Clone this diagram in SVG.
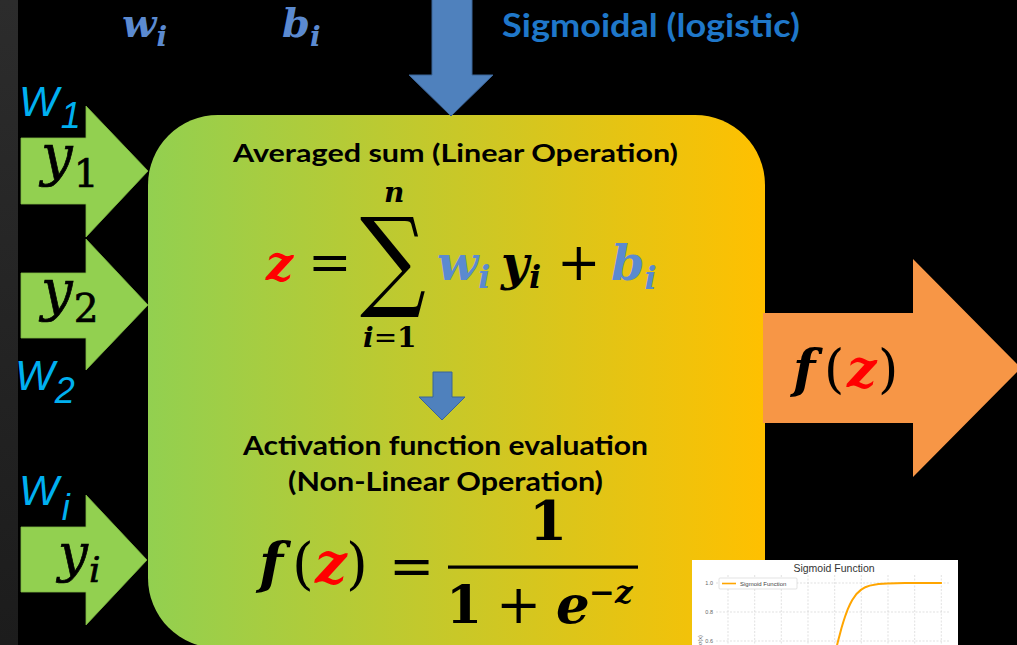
<svg xmlns="http://www.w3.org/2000/svg" width="1017" height="645" viewBox="0 0 1017 645">
<defs>
<linearGradient id="boxGrad" x1="148" y1="0" x2="765" y2="0" gradientUnits="userSpaceOnUse">
<stop offset="0" stop-color="#92d050"/>
<stop offset="1" stop-color="#ffc000"/>
</linearGradient>
<linearGradient id="stripGrad" x1="0" y1="0" x2="0" y2="1">
<stop offset="0" stop-color="#2c2c2c"/>
<stop offset="1" stop-color="#1c1c1c"/>
</linearGradient>
<style>
.sans{font-family:Lato,"Open Sans","Liberation Sans",sans-serif;font-weight:700}
.math{font-family:"DejaVu Serif","Liberation Serif",serif}
.bi{font-weight:700;font-style:italic}
.it{font-style:italic}
.blue{fill:#5b8ad0}
.red{fill:#ff0000}
.wlab{font-family:"Liberation Sans",Arial,sans-serif;font-style:italic;fill:#00b0f0}
.ylab{fill:#000;stroke:#000;stroke-width:0.7}
.green{fill:#92d050;stroke:#7fb843;stroke-width:0.8}
.bluearrow{fill:#4f81bd;stroke:#3b6497;stroke-width:1}
.grid{stroke:#cfcfcf;stroke-width:0.6;stroke-dasharray:2 1.5}
.tick{font-family:"Liberation Sans",Arial,sans-serif;font-size:5.5px;fill:#666}
</style>
</defs>
<rect width="1017" height="645" fill="#000"/>
<rect x="0" y="0" width="18" height="645" fill="url(#stripGrad)"/>

<g id="neuron">
<rect x="148" y="115" width="617" height="533" rx="70" ry="70" fill="url(#boxGrad)"/>
</g>

<g id="connectors">
<polygon class="green" points="21,138 86,138 86,106 148,171 86,237 86,204 21,204"/>
<polygon class="green" points="21,273 86,273 86,239 148,305 86,370 86,338 21,338"/>
<polygon class="green" points="21,527 86,527 86,495 147,560 86,625 86,592 21,592"/>
<polygon class="bluearrow" points="432,-2 472,-2 472,75 493,75 451,116 409,75 432,75"/>
<polygon class="bluearrow" points="433,372 452,372 452,397 465,397 442,420 419,397 433,397"/>
<polygon fill="#f79646" points="763,313 913,313 913,259 1021,368 913,477 913,423 763,423"/>
</g>

<g id="top-labels">
<text class="math bi blue" x="122" y="37" font-size="40">w<tspan font-size="28" dy="9">i</tspan></text>
<text class="math bi blue" x="282" y="37" font-size="40">b<tspan font-size="28" dy="9">i</tspan></text>
<text class="sans" x="502" y="37" font-size="32" fill="#1f77c9" textLength="298" lengthAdjust="spacingAndGlyphs">Sigmoidal (logistic)</text>
</g>

<g id="input-labels">
<text class="wlab" x="19" y="116" font-size="42">W<tspan font-size="36" dx="2" dy="12">1</tspan></text>
<text class="wlab" x="15" y="390" font-size="42">W<tspan font-size="36" dy="13">2</tspan></text>
<text class="wlab" x="19" y="505" font-size="42">W<tspan font-size="36" dx="3" dy="15">i</tspan></text>
<text class="math it ylab" x="41" y="175" font-size="56">y<tspan font-style="normal" font-size="39" dx="1" dy="12">1</tspan></text>
<text class="math it ylab" x="41" y="310" font-size="56">y<tspan font-style="normal" font-size="39" dx="1" dy="12">2</tspan></text>
<text class="math it ylab" x="58" y="571" font-size="53">y<tspan font-size="36" dx="1" dy="11">i</tspan></text>
</g>

<g id="linear-op">
<text class="sans" x="233" y="162" font-size="24" fill="#000" textLength="445" lengthAdjust="spacingAndGlyphs">Averaged sum (Linear Operation)</text>
<text class="math bi red" x="266" y="280" font-size="48">z</text>
<text class="math" x="308" y="280" font-size="52" fill="#000">=</text>
<text class="math" transform="translate(360,296) scale(0.84,1)" x="0" y="0" font-size="110" fill="#000">∑</text>
<text class="math bi" x="384" y="202" font-size="28" fill="#000">n</text>
<text class="math" x="363" y="347" font-size="28" fill="#000"><tspan class="bi">i</tspan>=<tspan font-weight="700">1</tspan></text>
<text class="math bi blue" x="437" y="280" font-size="48">w<tspan font-size="32" dy="8">i</tspan></text>
<text class="math bi" x="501" y="280" font-size="48" fill="#000">y<tspan font-size="32" dy="8">i</tspan></text>
<text class="math" x="557" y="280" font-size="52" fill="#000">+</text>
<text class="math bi blue" x="611" y="280" font-size="48">b<tspan font-size="32" dy="9">i</tspan></text>
</g>

<g id="activation">
<text class="sans" x="243" y="455" font-size="27" fill="#000" textLength="405" lengthAdjust="spacingAndGlyphs">Activation function evaluation</text>
<text class="sans" x="288" y="491" font-size="27" fill="#000" textLength="315" lengthAdjust="spacingAndGlyphs">(Non-Linear Operation)</text>
<text class="math" y="583" font-size="56" fill="#000"><tspan class="bi" x="259">f</tspan><tspan x="292">(</tspan><tspan class="bi red" x="315">z</tspan><tspan x="346">)</tspan></text>
<text class="math" x="389" y="585" font-size="54" fill="#000">=</text>
<rect x="448" y="565.5" width="190" height="3.2" fill="#000"/>
<text class="math" x="529" y="540" font-size="55" font-weight="700" fill="#000">1</text>
<text class="math" x="446" y="623" font-size="52" font-weight="700" fill="#000">1</text>
<text class="math" x="496" y="623" font-size="54" fill="#000">+</text>
<text class="math" y="623" font-size="53" fill="#000"><tspan class="bi" x="556">e</tspan><tspan class="bi" font-size="31" x="589" dy="-20">−z</tspan></text>
</g>

<g id="output">
<text class="math" y="387" font-size="52" fill="#000"><tspan class="bi" x="793">f</tspan><tspan x="824">(</tspan><tspan class="bi red" x="847">z</tspan><tspan x="878">)</tspan></text>
</g>

<g id="sigmoid-plot">
<rect x="692" y="560" width="266" height="90" fill="#fff"/>
<text x="834" y="572" font-family="Liberation Sans,Arial,sans-serif" font-size="10.5" fill="#333" text-anchor="middle">Sigmoid Function</text>
<g class="grid">
<line x1="716" y1="583" x2="950" y2="583"/>
<line x1="716" y1="612" x2="950" y2="612"/>
<line x1="716" y1="641" x2="950" y2="641"/>
<line x1="728" y1="575" x2="728" y2="645"/>
<line x1="754.7" y1="575" x2="754.7" y2="645"/>
<line x1="781.3" y1="575" x2="781.3" y2="645"/>
<line x1="808" y1="575" x2="808" y2="645"/>
<line x1="834.7" y1="575" x2="834.7" y2="645"/>
<line x1="861.3" y1="575" x2="861.3" y2="645"/>
<line x1="888" y1="575" x2="888" y2="645"/>
<line x1="914.7" y1="575" x2="914.7" y2="645"/>
<line x1="941.3" y1="575" x2="941.3" y2="645"/>
</g>
<text class="tick" x="713" y="585" text-anchor="end">1.0</text>
<text class="tick" x="713" y="614" text-anchor="end">0.8</text>
<text class="tick" x="713" y="643" text-anchor="end">0.6</text>
<text class="tick" transform="translate(702,645) rotate(-90)" text-anchor="start">σ(x)</text>
<polyline fill="none" stroke="#ffa500" stroke-width="2" points="836.3,648.3 838,641.2 839.8,634.4 841.5,628 843.3,622 845.5,615.3 847.7,609.4 849.9,604.5 852.1,600.3 856.5,594 860.9,589.9 865.3,587.2 869.7,585.6 878.5,584 887.3,583.4 904.9,583.05 941.9,583"/>
<rect x="719" y="578" width="78" height="11" rx="1" fill="#fff" stroke="#d0d0d0" stroke-width="0.6"/>
<line x1="722" y1="583.5" x2="736" y2="583.5" stroke="#ffa500" stroke-width="1.6"/>
<text x="740" y="586" font-family="Liberation Sans,Arial,sans-serif" font-size="6" fill="#444">Sigmoid Function</text>
</g>
</svg>
